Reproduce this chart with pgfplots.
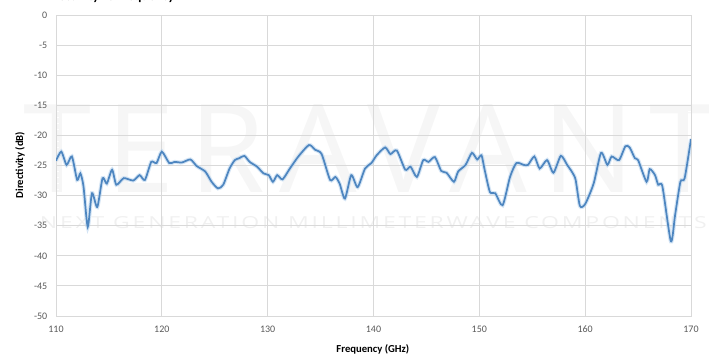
\documentclass[border=0pt]{standalone}
\usepackage{pgfplots}
\pgfplotsset{compat=1.18}
\usepackage{fontspec}
\usepackage{graphicx}
\setmainfont{Carlito}
\newfontfamily\wmfont[LetterSpace=12]{Open Sans}
\definecolor{tickc}{RGB}{89,89,89}
\definecolor{gridc}{RGB}{217,217,217}
\definecolor{linec}{RGB}{78,134,192}
\definecolor{haloc}{RGB}{185,212,238}
\definecolor{wmc}{RGB}{246,246,246}
\definecolor{wmc2}{RGB}{240,240,240}
\begin{document}
\begin{tikzpicture}
\useasboundingbox (-42pt,-28.5pt) rectangle (489.75pt,237pt);
% faint watermark
\node[wmc, anchor=center] at (236pt,126pt) {\resizebox{520pt}{66pt}{\wmfont TERAVANT}};
\node[wmc2, anchor=center] at (238pt,70pt) {\resizebox{500pt}{9pt}{\wmfont NEXT GENERATION MILLIMETERWAVE COMPONENTS}};
% clipped title
\node[anchor=base east, inner sep=0pt, font=\bfseries\fontsize{10}{12}\selectfont] at (89pt,236.4pt) {Directivity vs Frequency};
\begin{axis}[
  scale only axis, width=476.25pt, height=225.75pt,
  at={(0pt,0pt)}, anchor=south west,
  xmin=110, xmax=170, ymin=-50, ymax=0,
  xtick={110,120,...,170}, ytick={-50,-45,...,0},
  minor x tick num=4, minor y tick num=4,
  grid=major, major grid style={gridc, line width=0.75pt},
  axis line style={gridc, line width=0.75pt},
  tick align=inside, major tick length=0pt, minor tick length=2.5pt,
  minor tick style={color=gridc!120!black, line width=0.5pt},
  /pgf/number format/assume math mode=true,
  tick label style={font=\fontsize{7.5}{9}\selectfont, color=tickc},
  yticklabel style={xshift=-3pt},
  xticklabel style={yshift=-4pt},
  xlabel={Frequency (GHz)}, ylabel={Directivity (dB)},
  xlabel style={at={(axis description cs:0.499,-0.1096)}, anchor=center, font=\bfseries\fontsize{8}{10}\selectfont},
  ylabel style={at={(axis description cs:-0.0567,0.502)}, anchor=center, font=\bfseries\fontsize{8}{10}\selectfont},
]
\pgfplotstableread{
x y
110.0 -24.2
110.5 -22.7
111.0 -24.9
111.5 -23.5
112.0 -27.4
112.3 -26.3
112.6 -28.5
113.0 -35.2
113.4 -29.6
113.9 -31.9
114.4 -27.1
114.8 -28.0
115.3 -25.7
115.7 -28.2
116.4 -27.1
117.3 -27.5
117.9 -26.6
118.4 -27.4
119.0 -24.4
119.5 -24.6
120.0 -22.7
120.7 -24.6
121.2 -24.4
121.9 -24.5
122.7 -24.0
123.3 -25.1
124.1 -26.0
124.7 -27.7
125.3 -28.8
125.8 -28.2
126.4 -25.5
126.9 -24.1
127.3 -23.8
127.8 -23.4
128.3 -24.4
129.0 -25.2
129.6 -26.3
130.1 -26.6
130.5 -27.7
130.9 -26.6
131.4 -27.3
132.1 -25.5
132.9 -23.5
133.9 -21.6
134.5 -22.4
135.1 -23.1
135.9 -27.4
136.4 -26.9
136.8 -28.0
137.3 -30.5
137.9 -26.6
138.5 -28.6
139.2 -25.5
139.8 -24.6
140.3 -23.3
141.1 -22.0
141.6 -23.1
142.2 -22.5
143.0 -25.7
143.5 -25.2
144.1 -26.9
144.7 -24.1
145.2 -24.4
145.8 -23.6
146.4 -25.9
146.9 -26.2
147.6 -27.7
148.0 -26.0
148.7 -24.9
149.3 -22.9
149.8 -24.0
150.2 -23.3
150.5 -25.7
151.0 -29.4
151.5 -29.6
152.2 -31.6
152.9 -26.9
153.5 -24.6
154.2 -24.9
154.6 -24.9
155.2 -23.5
155.7 -25.5
156.4 -24.1
157.0 -26.2
157.7 -23.4
158.3 -24.9
158.8 -26.2
159.1 -27.4
159.5 -31.7
160.0 -31.4
160.8 -28.0
161.5 -22.9
162.1 -24.9
162.5 -23.5
163.2 -24.1
163.8 -21.8
164.2 -22.0
164.7 -23.8
165.0 -24.1
165.8 -27.7
166.1 -25.6
166.6 -26.6
166.9 -28.2
167.3 -28.5
168.1 -37.6
168.5 -33.2
169.0 -27.7
169.4 -27.1
170.0 -20.6
}\datatable
\addplot[haloc, line width=3pt, opacity=0.6, smooth, tension=0.4, forget plot] table[x=x,y=y] {\datatable};
\addplot[linec, line width=1.3pt, smooth, tension=0.4] table[x=x,y=y] {\datatable};
\end{axis}
\end{tikzpicture}
\end{document}
